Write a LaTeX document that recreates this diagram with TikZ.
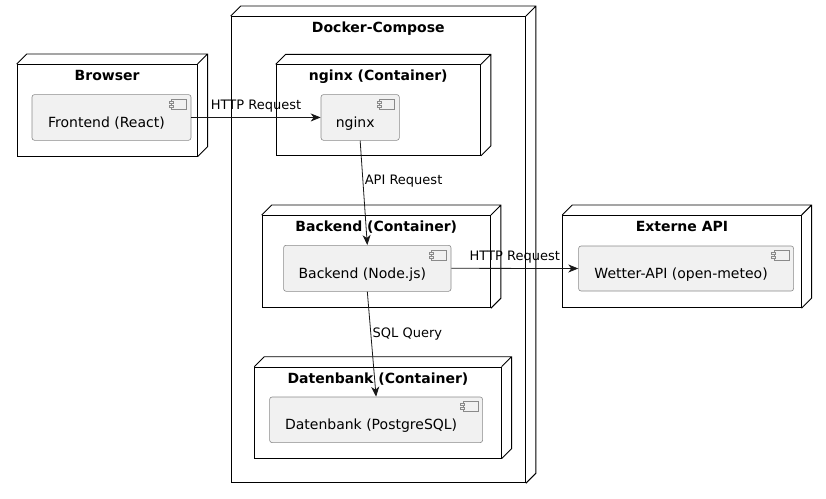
\documentclass[tikz,border=0pt]{standalone}
\usepackage{fontspec}
\setmainfont{DejaVu Sans}
\usetikzlibrary{arrows.meta}
\definecolor{compfill}{HTML}{F1F1F1}
\definecolor{compline}{HTML}{8A8A8A}
\definecolor{arrowline}{HTML}{181818}

\begin{document}
\begin{tikzpicture}[x=1pt,y=-1pt]
\tikzstyle{box}=[draw=black,line width=0.9pt,inner sep=0pt,anchor=north west]
\tikzstyle{ttl}=[font=\fontsize{14}{16}\selectfont\bfseries,inner sep=0pt,anchor=base]
\tikzstyle{comp}=[draw=compline,fill=compfill,line width=0.6pt,rounded corners=2.5pt,inner sep=0pt,anchor=north west,font=\fontsize{14}{16}\selectfont,text height=23pt,text depth=3pt,execute at end node={\hspace{10pt}}]
\tikzstyle{icon}=[draw=compline,fill=compfill,line width=0.5pt]
\tikzstyle{flow}=[draw=arrowline,line width=0.8pt,-{Stealth[length=10pt,width=8pt,inset=3pt]}]
\tikzstyle{lbl}=[font=\fontsize{13}{15}\selectfont,inner sep=1.5pt]
\useasboundingbox (0,0) rectangle (826,498);

% deployment nodes
\node[box,minimum width=180,minimum height=91.7] (browser) at (16.7,64) {};
\node[box,minimum width=294.3,minimum height=466.3] (docker) at (230.7,16) {};
\node[box,minimum width=204.3,minimum height=90.7] (nginxbox) at (275.7,64.3) {};
\node[box,minimum width=228.3,minimum height=92.3] (backendbox) at (261.7,215) {};
\node[box,minimum width=246.4,minimum height=91] (datenbankbox) at (254.3,366.7) {};
\node[box,minimum width=238.4,minimum height=92.3] (externe) at (562.3,215) {};
\foreach \c in {browser,docker,nginxbox,backendbox,datenbankbox,externe}{
  \draw[line width=0.9pt] (\c.north west) -- ++(10,-10) -| ([shift={(10pt,10pt)}]\c.south east) -- (\c.south east)
    (\c.north east) -- ++(10,-10);
}
\foreach \c/\t in {browser/Browser,docker/Docker-Compose,nginxbox/nginx (Container),backendbox/Backend (Container),datenbankbox/Datenbank (Container),externe/Externe API}
  \node[ttl] (\c-title) at ([yshift=-16.3pt]\c.north) {\t};

% components
\node[comp,minimum width=159,minimum height=45.7] (frontend) at (31.7,94.3) {Frontend (React)};
\node[comp,minimum width=78.3,minimum height=45.7] (nginx) at (320.7,94.3) {nginx};
\node[comp,minimum width=167.4,minimum height=46] (backend) at (283.3,245) {Backend (Node.js)};
\node[comp,minimum width=215,minimum height=45] (wetter) at (578.3,245.7) {Wetter-API (open-meteo)};
\node[comp,minimum width=213,minimum height=45.6] (datenbank) at (269.3,396.7) {Datenbank (PostgreSQL)};
\foreach \c in {frontend,nginx,backend,wetter,datenbank}{
  \draw[icon] ([shift={(-20pt,-5pt)}]\c.north east) rectangle ++(15,10);
  \draw[icon] ([shift={(-22.5pt,-7pt)}]\c.north east) rectangle ++(4,2);
  \draw[icon] ([shift={(-22.5pt,-11pt)}]\c.north east) rectangle ++(4,2);
}

% connections
\draw[flow] (frontend.east) -- (nginx.west) node[lbl,midway,above=3pt] (l1) {HTTP Request};
\draw[flow] (nginx.south) -- (backend.north) node[lbl,pos=0.39,right] (l2) {API Request};
\draw[flow] (backend.east) -- (wetter.west) node[lbl,midway,above=3pt] (l3) {HTTP Request};
\draw[flow] (backend.south) -- (datenbank.north) node[lbl,pos=0.4,right] (l4) {SQL Query};
\end{tikzpicture}
\end{document}
